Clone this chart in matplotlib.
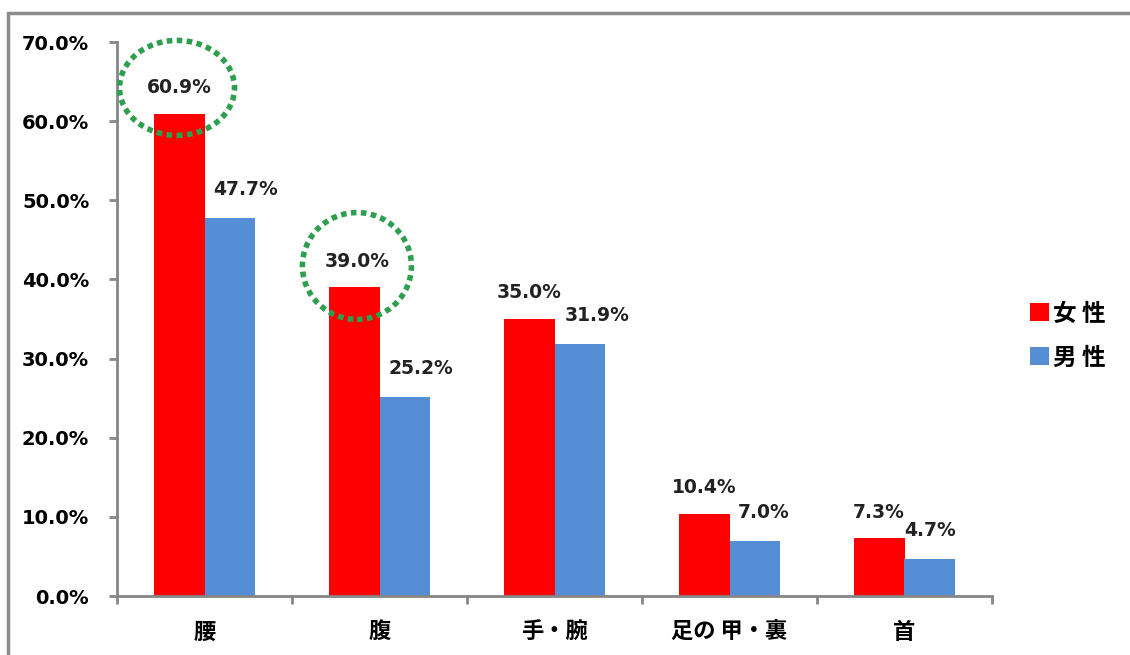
import matplotlib
matplotlib.use('Agg')
import matplotlib.pyplot as plt
from matplotlib.patches import Ellipse, Rectangle
import numpy as np

plt.rcParams['font.family'] = ['DejaVu Sans', 'Noto Sans CJK JP']

## Data
parts = ['腰', '腹', '手・腕', '足の 甲・裏', '首']
female = [60.9, 39.0, 35.0, 10.4, 7.3]
male = [47.7, 25.2, 31.9, 7.0, 4.7]
series_names = ['女 性', '男 性']

## label nudges (x in category units) to mimic the original placement
female_dx = [0.0, 0.02, 0.0, 0.0, 0.0]
male_dx = [0.09, 0.09, 0.1, 0.05, 0.0]

red = '#ff0000'
blue = '#558ed5'
grey = '#868686'

fig = plt.figure(figsize=(11.3, 6.55), dpi=100)
ax = fig.add_axes([117/1130, 1 - 596/655, (992 - 117)/1130, (596 - 42)/655])

x = np.arange(len(parts))
w = 0.29
ax.bar(x - w/2, female, w, color=red, label=series_names[0], zorder=2)
ax.bar(x + w/2, male, w, color=blue, label=series_names[1], zorder=2)

for i in range(len(parts)):
   ax.text(x[i] - w/2 + female_dx[i], female[i] + 3.3, f'{female[i]:.1f}%',
           ha='center', va='center', fontsize=13.5, fontweight='bold', color='#222222')
   ax.text(x[i] + w/2 + male_dx[i], male[i] + 3.6, f'{male[i]:.1f}%',
           ha='center', va='center', fontsize=13.5, fontweight='bold', color='#222222')

## green dotted highlight circles
for cx, cy, ew, eh in [(-0.157, 64.2, 0.657, 12.0), (0.871, 41.7, 0.623, 13.5)]:
   ax.add_patch(Ellipse((cx, cy), ew, eh, fill=False, edgecolor='#2e9e4f',
                        linewidth=4, linestyle=(0, (1, 0.8)), zorder=3, clip_on=False))

ax.set_xlim(-0.5, len(parts) - 0.5)
ax.set_ylim(0, 70)
ax.set_yticks(np.arange(0, 71, 10))
ax.set_yticklabels([f'{v:.1f}%' for v in np.arange(0, 71, 10)], fontsize=14, fontweight='bold')
ax.set_xticks(x)
ax.set_xticklabels(parts, fontsize=16, fontweight='bold', family=['Noto Sans CJK JP'])
ax.set_xticks(np.arange(-0.5, len(parts), 1), minor=True)
ax.tick_params(axis='x', which='major', length=0, pad=18)
ax.tick_params(axis='x', which='minor', length=6, width=2, color=grey)
ax.tick_params(axis='y', length=6, width=2, color=grey, pad=14)

for s in ['top', 'right']:
   ax.spines[s].set_visible(False)
for s in ['left', 'bottom']:
   ax.spines[s].set_color(grey)
   ax.spines[s].set_linewidth(2)

leg = ax.legend(loc='center left', bbox_to_anchor=(1.019, 0.47), frameon=False,
                prop={'family': 'Noto Sans CJK JP', 'size': 17, 'weight': 'bold'},
                handlelength=0.8, handleheight=0.8, handletextpad=0.2, labelspacing=0.85)

## outer chart border
fig.patches.append(Rectangle((8/1130, -0.02), 1.1, 1 - 13/655 + 0.02, transform=fig.transFigure,
                             fill=False, edgecolor='#8c8c8c', linewidth=2.5))

fig.savefig('out.png', dpi=100)
